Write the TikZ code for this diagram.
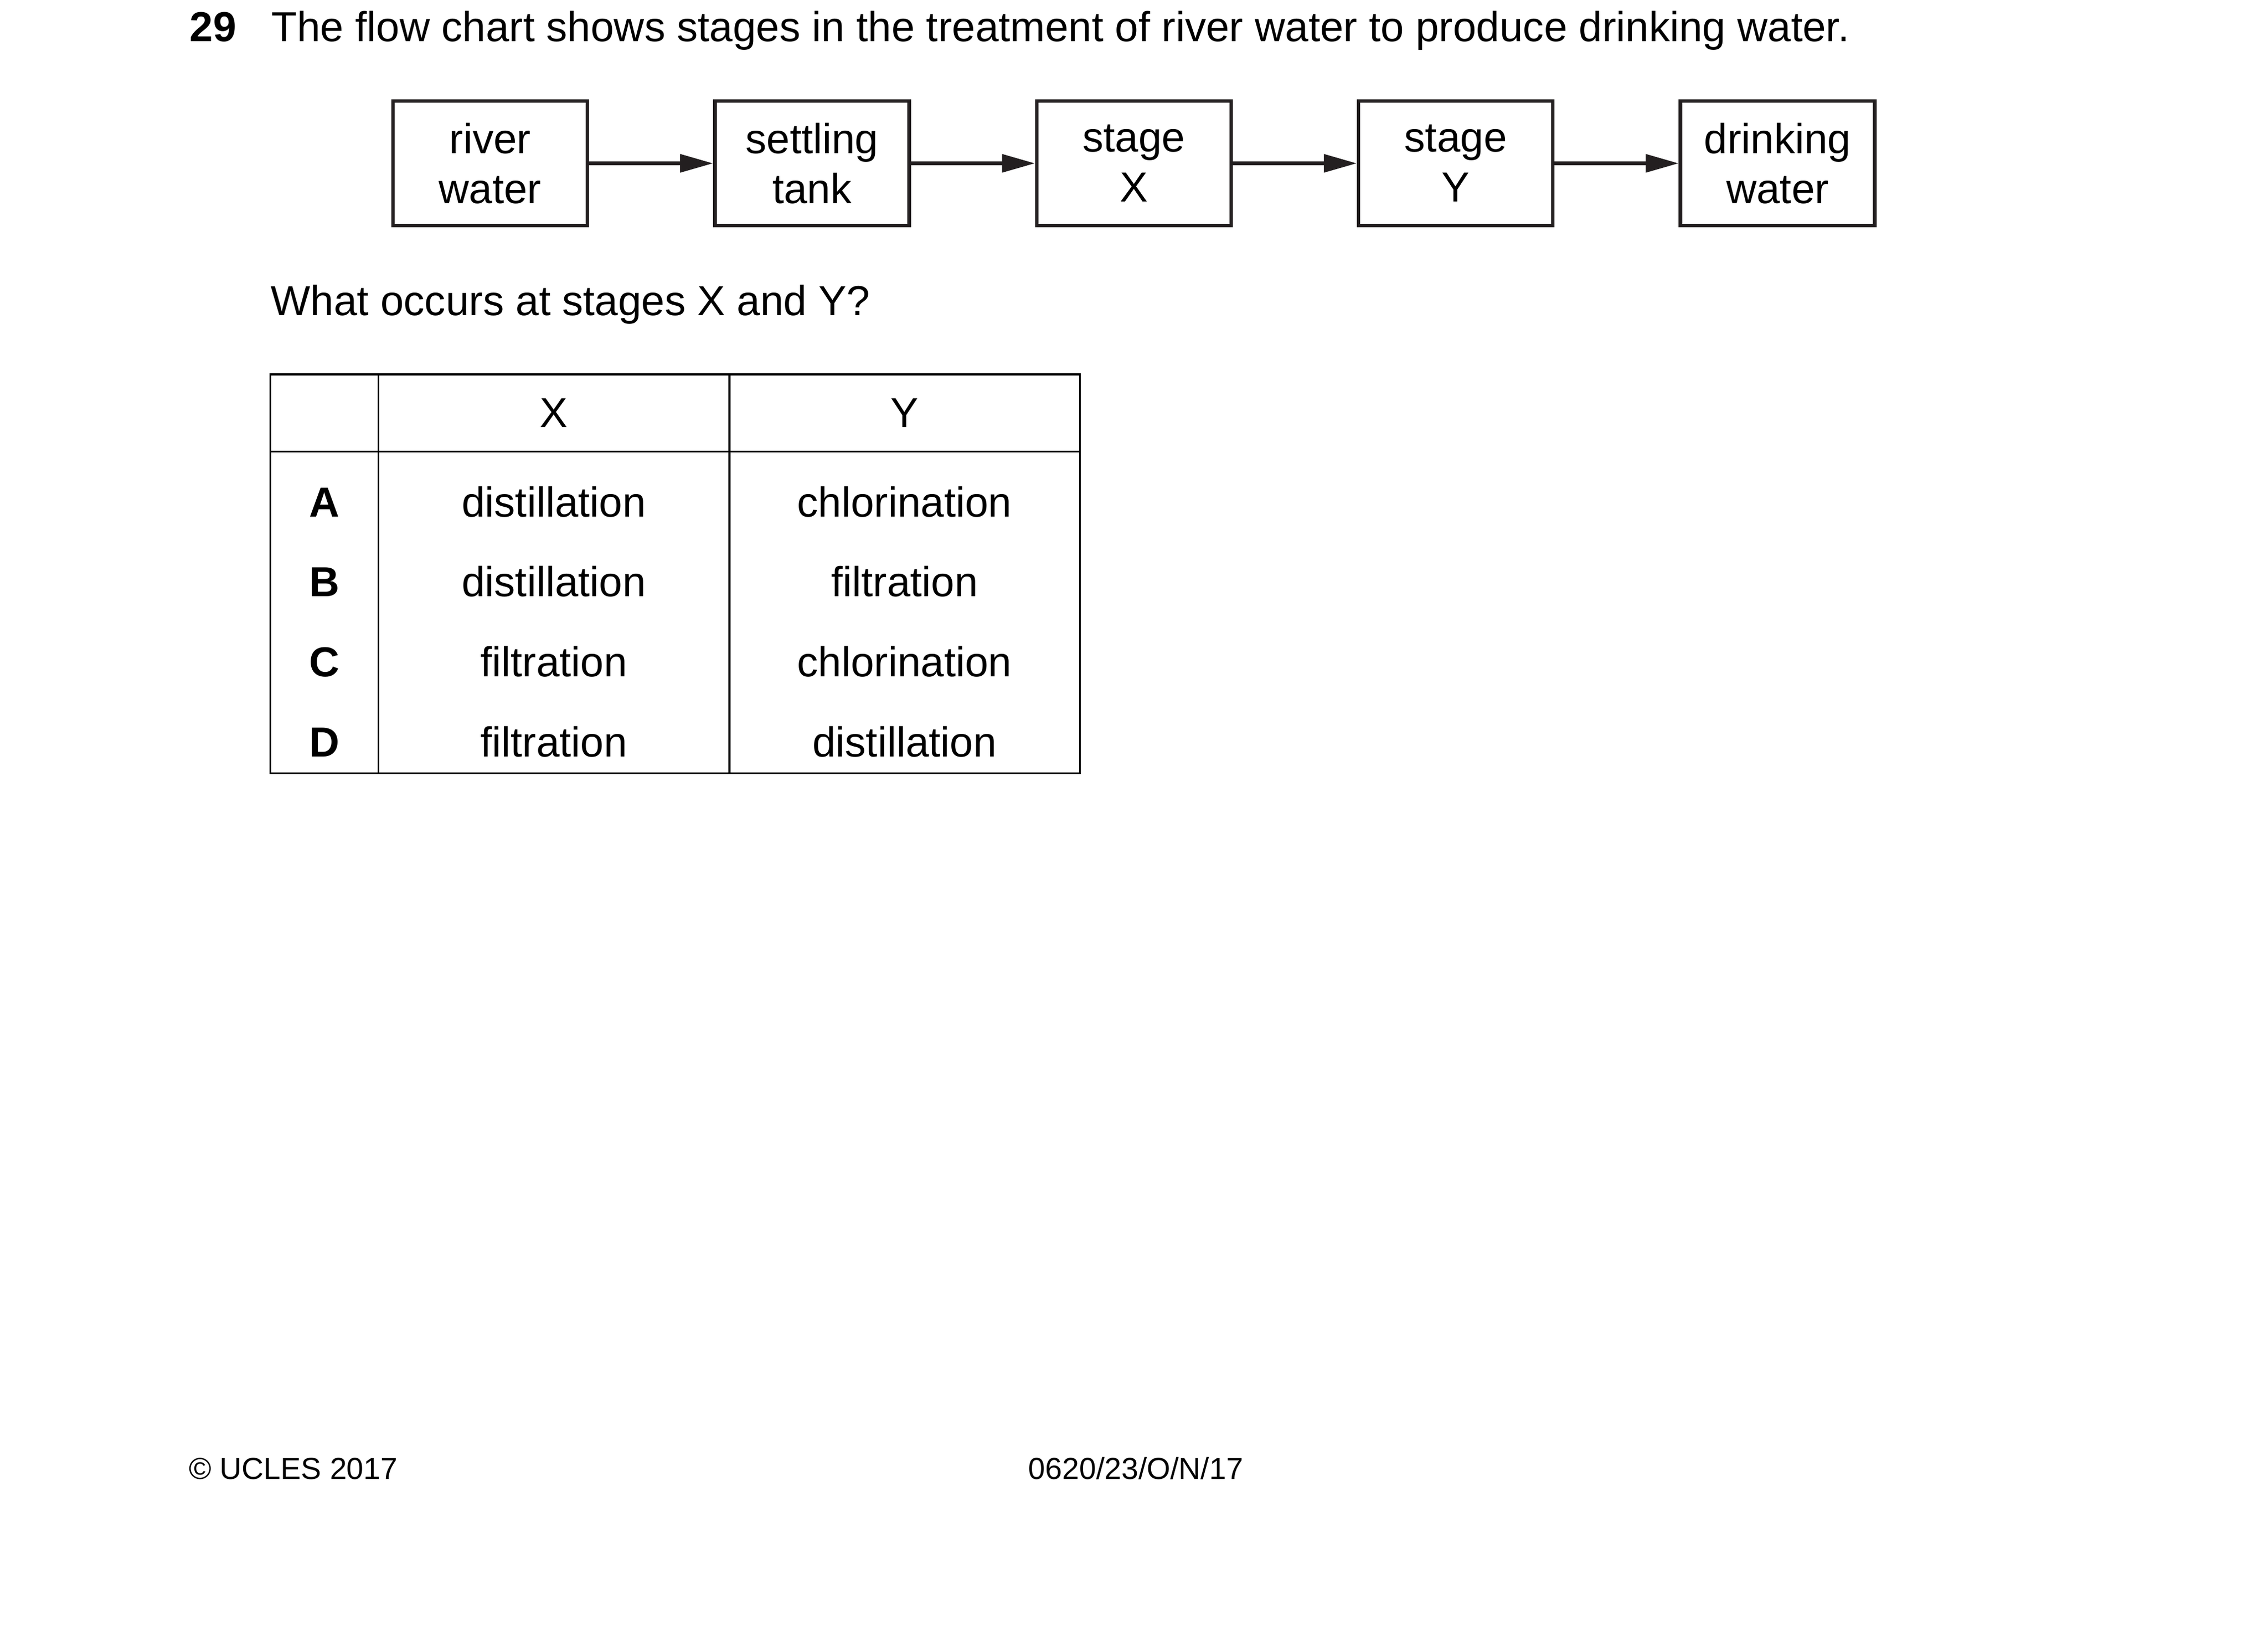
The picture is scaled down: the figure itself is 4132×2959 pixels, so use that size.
\documentclass[tikz,border=0pt]{standalone}
\usepackage{fontspec}
\setmainfont{Liberation Sans}
\usetikzlibrary{arrows.meta}
\definecolor{boxcol}{RGB}{35,31,32}
\begin{document}
\begin{tikzpicture}[x=0.25pt,y=-0.25pt,
  stagebox/.style={draw=boxcol, line width=1.6pt, minimum width=88.5pt, minimum height=56.75pt,
    inner sep=0pt, align=center, text=black, font=\fontsize{19.1}{22.75}\selectfont},
  flowarrow/.style={draw=boxcol, line width=1.75pt, -{Triangle[length=15pt,width=8pt]}},
  txt/.style={inner sep=0pt, font=\fontsize{19.1}{22.75}\selectfont},
  boldtxt/.style={inner sep=0pt, font=\fontsize{19.1}{22.75}\selectfont\bfseries},
  foot/.style={inner sep=0pt, font=\fontsize{13.85}{16.6}\selectfont},
  grid/.style={draw=black, line width=0.83pt}]
\fill[white] (0,0) rectangle (4132,2959);
\useasboundingbox (0,0) rectangle (4132,2959);

% question line
\node[boldtxt, anchor=base west] (qnum) at (345,75) {29};
\node[txt, anchor=base west] (qtext) at (494,75) {The flow chart shows stages in the treatment of river water to produce drinking water.};

% flow chart
\node[stagebox] (river) at (893,297.5) {river\\water};
\node[stagebox] (settle) at (1479.4,297.5) {settling\\tank};
\node[stagebox] (stx) at (2065.8,297.5) {stage\\X};
\node[stagebox] (sty) at (2652.1,297.5) {stage\\Y};
\node[stagebox] (drink) at (3238.5,297.5) {drinking\\water};
\draw[flowarrow] (river.east) -- (settle.west);
\draw[flowarrow] (settle.east) -- (stx.west);
\draw[flowarrow] (stx.east) -- (sty.west);
\draw[flowarrow] (sty.east) -- (drink.west);

% question
\node[txt, anchor=base west] (ask) at (493,574) {What occurs at stages X and Y?};

% table
\draw[grid] (492.5,682) rectangle (1967.5,1408.5);
\draw[grid] (492.5,822.5) -- (1967.5,822.5);
\draw[grid] (689.5,682) -- (689.5,1408.5);
\draw[grid] (1329,682) -- (1329,1408.5);

\node[txt, anchor=base] (hx) at (1009,778) {X};
\node[txt, anchor=base] (hy) at (1648,778) {Y};

\node[boldtxt, anchor=base] (ra) at (591,941) {A};
\node[txt, anchor=base] (ax) at (1009,941) {distillation};
\node[txt, anchor=base] (ay) at (1648,941) {chlorination};

\node[boldtxt, anchor=base] (rb) at (591,1086.5) {B};
\node[txt, anchor=base] (bx) at (1009,1086.5) {distillation};
\node[txt, anchor=base] (by) at (1648,1086.5) {filtration};

\node[boldtxt, anchor=base] (rc) at (591,1232) {C};
\node[txt, anchor=base] (cx) at (1009,1232) {filtration};
\node[txt, anchor=base] (cy) at (1648,1232) {chlorination};

\node[boldtxt, anchor=base] (rd) at (591,1378) {D};
\node[txt, anchor=base] (dx) at (1009,1378) {filtration};
\node[txt, anchor=base] (dy) at (1648,1378) {distillation};

% footer
\node[foot, anchor=base west] (copy) at (344,2694) {© UCLES 2017};
\node[foot, anchor=base west] (code) at (1873,2694) {0620/23/O/N/17};
\end{tikzpicture}
\end{document}
